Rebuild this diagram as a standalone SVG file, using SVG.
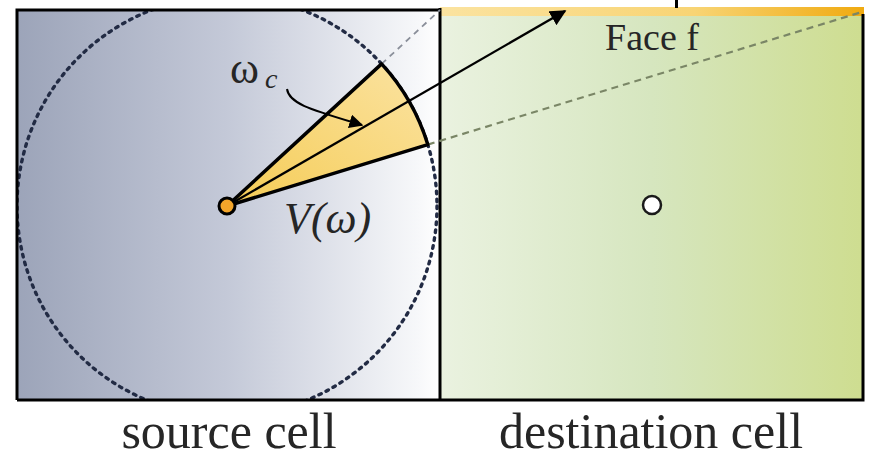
<svg xmlns="http://www.w3.org/2000/svg" width="869" height="458" viewBox="0 0 869 458">
<defs>
<linearGradient id="gSrc" x1="0" y1="0" x2="1" y2="0">
<stop offset="0" stop-color="#9ca4b9"/>
<stop offset="0.5" stop-color="#c4c9d8"/>
<stop offset="0.95" stop-color="#f7f8fa"/>
<stop offset="1" stop-color="#ffffff"/>
</linearGradient>
<linearGradient id="gDst" x1="0" y1="0" x2="1" y2="0">
<stop offset="0" stop-color="#eaf2e0"/>
<stop offset="0.5" stop-color="#d6e6bf"/>
<stop offset="1" stop-color="#cedd90"/>
</linearGradient>
<linearGradient id="gFace" x1="0" y1="0" x2="1" y2="0">
<stop offset="0" stop-color="#fbe3a0"/>
<stop offset="0.6" stop-color="#f8d474"/>
<stop offset="1" stop-color="#f0aa10"/>
</linearGradient>
<linearGradient id="gWedge" x1="0" y1="1" x2="1" y2="0">
<stop offset="0" stop-color="#f5cc55"/>
<stop offset="1" stop-color="#fbe3a2"/>
</linearGradient>
<clipPath id="srcClip"><rect x="17" y="10" width="423" height="390"/></clipPath>
<marker id="ah" viewBox="0 0 10 10" refX="9" refY="5" markerWidth="7" markerHeight="7" orient="auto" markerUnits="strokeWidth">
<path d="M0,0 L10,5 L0,10 Z" fill="#000"/>
</marker>
<marker id="ahs" viewBox="0 0 10 10" refX="9" refY="5" markerWidth="7" markerHeight="7" orient="auto" markerUnits="strokeWidth">
<path d="M0,0 L10,5 L0,10 Z" fill="#000"/>
</marker>
</defs>
<style>
.lbl{font-family:"Liberation Serif","Times New Roman",serif;fill:#262626}
.border{fill:none;stroke:#000;stroke-width:3}
</style>
<rect width="869" height="458" fill="#ffffff"/>

<g id="source-cell">
<rect x="17" y="10" width="423" height="390" fill="url(#gSrc)"/>
<circle cx="227" cy="206" r="210" fill="none" stroke="#222b44" stroke-width="3.4" stroke-dasharray="2.6 5.4" stroke-linecap="round" clip-path="url(#srcClip)"/>
<path d="M17,400 L17,10 L440,10" class="border"/>
<line x1="17" y1="400" x2="440" y2="400" stroke="#000" stroke-width="3"/>
</g>

<g id="destination-cell">
<rect x="440" y="14" width="423" height="386" fill="url(#gDst)"/>
<rect id="face-f" x="440" y="7" width="424" height="9" fill="url(#gFace)"/>
<path d="M863,14 L863,400 L440,400" class="border"/>
<line x1="440" y1="8" x2="440" y2="401" stroke="#000" stroke-width="3"/>
<circle cx="652" cy="205" r="9" fill="#ffffff" stroke="#1a1a1a" stroke-width="2.5"/>
</g>

<line x1="676.5" y1="0" x2="676.5" y2="8" stroke="#000" stroke-width="3"/>

<g id="connectors">
<line x1="381.6" y1="63.9" x2="440" y2="10" stroke="#8a8f9a" stroke-width="1.8" stroke-dasharray="6 5"/>
<line x1="427.8" y1="144.6" x2="862" y2="12" stroke="#7a8666" stroke-width="2.2" stroke-dasharray="7 5"/>
</g>

<g id="wedge">
<path d="M227,206 L381.6,63.9 A210,210 0 0 1 427.8,144.6 Z" fill="url(#gWedge)" stroke="#000" stroke-width="3.5" stroke-linejoin="round"/>
</g>

<g id="direction">
<line x1="227" y1="206" x2="565" y2="11" stroke="#000" stroke-width="2.3" marker-end="url(#ah)"/>
<path d="M287,89 C289,104 312,110 362,125" fill="none" stroke="#000" stroke-width="2" marker-end="url(#ahs)"/>
</g>

<g id="source-point">
<circle cx="227" cy="206" r="8" fill="#f3a52a" stroke="#000" stroke-width="3"/>
</g>

<g id="labels">
<text class="lbl" x="230" y="83" font-size="44">ω</text>
<text class="lbl" x="265" y="88" font-size="28" font-style="italic">c</text>
<text class="lbl" x="284" y="233" font-size="44" font-style="italic">V(ω)</text>
<text class="lbl" x="652" y="50" font-size="38" text-anchor="middle">Face f</text>
<text class="lbl" x="229" y="448" font-size="50" text-anchor="middle">source cell</text>
<text class="lbl" x="651" y="448" font-size="50" text-anchor="middle">destination cell</text>
</g>
</svg>
